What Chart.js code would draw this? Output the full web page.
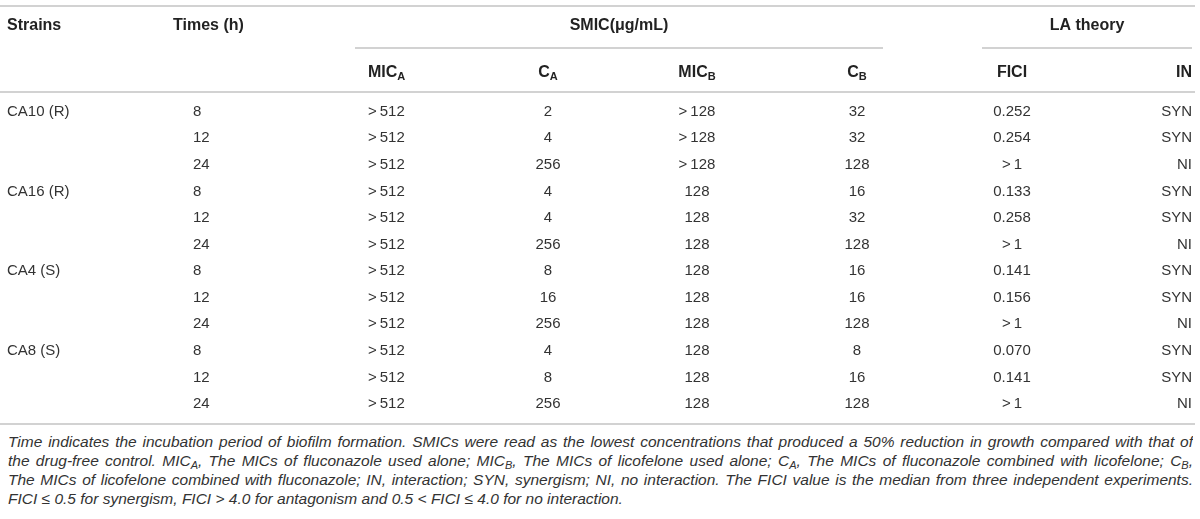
<!DOCTYPE html>
<html>
<head>
<meta charset="utf-8">
<script src="https://cdn.jsdelivr.net/npm/chart.js@4.4.1/dist/chart.umd.min.js"></script>
<style>
  body { margin: 0; background: #fff; }
  #wrap { width: 1200px; }
  canvas { display: block; }
  .note { margin: 4px 0 0 8px; width: 1185px; font: italic 15.5px "Liberation Sans", Arial, sans-serif; color: #333; line-height: 19px; }
  .note div { text-align: justify; text-align-last: justify; white-space: nowrap; overflow: hidden; }
  .note div.last { text-align-last: left; }
  .note sub { font-size: 11px; vertical-align: -3px; line-height: 0; }
</style>
</head>
<body>
<div id="wrap">
  <canvas id="table" width="1200" height="428"></canvas>
  <div class="note">
    <div>Time indicates the incubation period of biofilm formation. SMICs were read as the lowest concentrations that produced a 50% reduction in growth compared with that of</div>
    <div>the drug-free control. MIC<sub>A</sub>, The MICs of fluconazole used alone; MIC<sub>B</sub>, The MICs of licofelone used alone; C<sub>A</sub>, The MICs of fluconazole combined with licofelone; C<sub>B</sub>,</div>
    <div>The MICs of licofelone combined with fluconazole; IN, interaction; SYN, synergism; NI, no interaction. The FICI value is the median from three independent experiments.</div>
    <div class="last">FICI &le; 0.5 for synergism, FICI &gt; 4.0 for antagonism and 0.5 &lt; FICI &le; 4.0 for no interaction.</div>
  </div>
</div>
<script>
// table data
const strains = ['CA10 (R)', 'CA16 (R)', 'CA4 (S)', 'CA8 (S)'];
const times = [8, 12, 24];
const micA = ['>512', '>512', '>512', '>512', '>512', '>512', '>512', '>512', '>512', '>512', '>512', '>512'];
const cA = [2, 4, 256, 4, 4, 256, 8, 16, 256, 4, 8, 256];
const micB = ['>128', '>128', '>128', '128', '128', '128', '128', '128', '128', '128', '128', '128'];
const cB = [32, 32, 128, 16, 32, 128, 16, 16, 128, 8, 16, 128];
const fici = ['0.252', '0.254', '>1', '0.133', '0.258', '>1', '0.141', '0.156', '>1', '0.070', '0.141', '>1'];
const interaction = ['SYN', 'SYN', 'NI', 'SYN', 'SYN', 'NI', 'SYN', 'SYN', 'NI', 'SYN', 'SYN', 'NI'];

const groupHeaders = ['SMIC(\u03bcg/mL)', 'LA theory'];
const colHeaders = ['Strains', 'Times (h)', 'MIC_A', 'C_A', 'MIC_B', 'C_B', 'FICI', 'IN'];

// layout: column anchors on the x scale (0..1200), row slots on the y scale
const colX = [7, 193, 368, 548, 697, 857, 1012, 1192];
const colAlign = ['left', 'left', 'left', 'center', 'center', 'center', 'center', 'right'];
const headX = [7, 173, 368, 548, 697, 857, 1012, 1192];
const groupSpan = [[355, 883], [982, 1192]];

const FONT = '"Liberation Sans", Arial, sans-serif';

// shrink a footnote line a little if it would not fit on one row
document.querySelectorAll('.note div').forEach(d => {
  let s = 15.5;
  while (d.scrollWidth > d.clientWidth + 1 && s > 13) {
    s -= 0.25;
    d.style.fontSize = s + 'px';
  }
});

function drawRich(ctx, label, x, y, align, bold) {
  // "MIC_A" -> MIC with subscript A; ">512" gets a thin gap after the sign
  let [main, sub] = String(label).split('_');
  main = main.replace(/^>/, '>\u2009');
  const w = bold ? 'bold ' : '';
  const size = bold ? 16 : 15;
  ctx.font = w + size + 'px ' + FONT;
  const mw = ctx.measureText(main).width;
  let sw = 0;
  if (sub) { ctx.font = w + '11px ' + FONT; sw = ctx.measureText(sub).width; }
  let x0 = x;
  if (align === 'center') x0 = x - (mw + sw) / 2;
  if (align === 'right') x0 = x - (mw + sw);
  ctx.textAlign = 'left';
  ctx.font = w + size + 'px ' + FONT;
  ctx.fillText(main, x0, y);
  if (sub) {
    ctx.font = w + '11px ' + FONT;
    ctx.fillText(sub, x0 + mw, y + 4);
  }
}

const tablePlugin = {
  id: 'tablePlugin',
  afterDraw(chart) {
    const ctx = chart.ctx;
    const xs = chart.scales.x, ys = chart.scales.y;
    const px = v => xs.getPixelForValue(v);
    const py = v => ys.getPixelForValue(v);
    ctx.save();
    ctx.strokeStyle = '#d2d2d2';
    ctx.lineWidth = 2;
    const hline = (x1, x2, y) => {
      ctx.beginPath();
      ctx.moveTo(px(x1), Math.round(py(y)));
      ctx.lineTo(px(x2), Math.round(py(y)));
      ctx.stroke();
    };
    hline(0, 1195, -3.98);
    groupSpan.forEach(s => hline(s[0], s[1], -2.4));
    hline(0, 1195, -0.75);
    hline(0, 1195, 11.75);

    ctx.textBaseline = 'middle';
    ctx.fillStyle = '#222';
    // header row 1
    drawRich(ctx, colHeaders[0], px(headX[0]), py(-3.23), 'left', true);
    drawRich(ctx, colHeaders[1], px(headX[1]), py(-3.23), 'left', true);
    groupHeaders.forEach((g, i) => {
      drawRich(ctx, g, px((groupSpan[i][0] + groupSpan[i][1]) / 2), py(-3.23), 'center', true);
    });
    // header row 2
    for (let c = 2; c < colHeaders.length; c++) {
      drawRich(ctx, colHeaders[c], px(headX[c]), py(-1.47), colAlign[c], true);
    }

    // body
    ctx.fillStyle = '#333';
    const columns = [null, null, micA, cA, micB, cB, fici, interaction];
    for (let r = 0; r < micA.length; r++) {
      const y = py(r);
      if (r % times.length === 0) drawRich(ctx, strains[r / times.length], px(colX[0]), y, 'left', false);
      drawRich(ctx, times[r % times.length], px(colX[1]), y, 'left', false);
      for (let c = 2; c < columns.length; c++) {
        drawRich(ctx, columns[c][r], px(colX[c]), y, colAlign[c], false);
      }
    }
    ctx.restore();
  }
};

new Chart(document.getElementById('table').getContext('2d'), {
  type: 'scatter',
  data: { datasets: [] },
  options: {
    responsive: false,
    maintainAspectRatio: false,
    animation: false,
    devicePixelRatio: 1,
    layout: { padding: 0 },
    scales: {
      x: { type: 'linear', min: 0, max: 1200, display: false },
      y: { type: 'linear', min: -4.2, max: 11.9, reverse: true, display: false }
    },
    plugins: {
      legend: { display: false },
      tooltip: { enabled: false }
    }
  },
  plugins: [tablePlugin]
});
</script>
</body>
</html>
